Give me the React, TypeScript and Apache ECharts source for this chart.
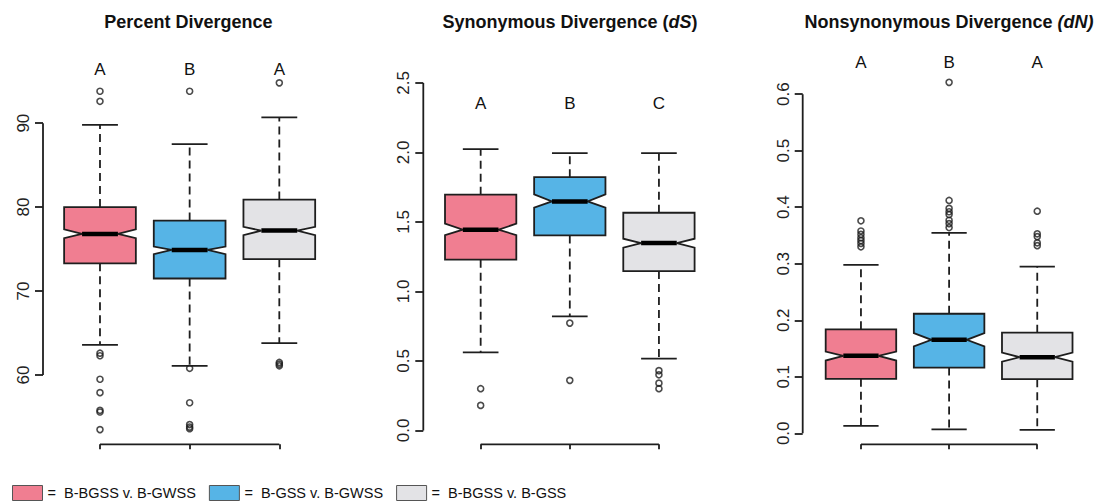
import React, { useEffect, useRef } from 'react';
import * as echarts from 'echarts';

const FONT = '"Liberation Sans", Arial, Helvetica, sans-serif';

const groups = ['B-BGSS v. B-GWSS', 'B-GSS v. B-GWSS', 'B-BGSS v. B-GSS'];
const groupColors = ['#F07E91', '#56B4E6', '#E3E3E6'];

// each row: [lower whisker, Q1, notch low, median, notch high, Q3, upper whisker]
const percentStats = [
  [63.6, 73.3, 76.3, 76.8, 77.35, 80.0, 89.8],
  [61.1, 71.5, 74.4, 74.9, 75.3, 78.4, 87.5],
  [63.8, 73.8, 76.65, 77.2, 77.65, 80.9, 90.7],
];
const percentOutliers = [
  [93.8, 92.6, 62.6, 62.3, 59.5, 57.9, 55.8, 55.6, 53.5],
  [93.8, 60.8, 56.7, 54.1, 53.8, 53.6],
  [94.8, 61.5, 61.3, 61.1],
];
const percentLetters = ['A', 'B', 'A'];
const percentTicks = [60, 70, 80, 90];

const dsStats = [
  [0.561, 1.228, 1.405, 1.444, 1.487, 1.696, 2.024],
  [0.82, 1.403, 1.602, 1.647, 1.698, 1.822, 1.995],
  [0.516, 1.146, 1.314, 1.348, 1.379, 1.566, 1.995],
];
const dsOutliers = [
  [0.3, 0.18],
  [0.772, 0.36],
  [0.43, 0.4, 0.34, 0.3],
];
const dsLetters = ['A', 'B', 'C'];
const dsTicks = [0, 0.5, 1.0, 1.5, 2.0, 2.5];

const dnStats = [
  [0.013, 0.0963, 0.1287, 0.137, 0.1447, 0.184, 0.298],
  [0.007, 0.1163, 0.1536, 0.1654, 0.1773, 0.2115, 0.3546],
  [0.006, 0.0957, 0.1267, 0.1347, 0.1427, 0.178, 0.295],
];
const dnOutliers = [
  [0.376, 0.358, 0.352, 0.346, 0.341, 0.336, 0.33],
  [0.621, 0.412, 0.398, 0.392, 0.387, 0.377, 0.371, 0.364],
  [0.393, 0.353, 0.348, 0.337, 0.332],
];
const dnLetters = ['A', 'B', 'A'];
const dnTicks = [0, 0.1, 0.2, 0.3, 0.4, 0.5, 0.6];

const panelTitles = [
  '{b|Percent Divergence}',
  '{b|Synonymous Divergence (}{i|dS}{b|)}',
  '{b|Nonsynonymous Divergence }{i|(dN)}',
];

const panels = [
  { stats: percentStats, outliers: percentOutliers, letters: percentLetters, ticks: percentTicks, decimals: 0 },
  { stats: dsStats, outliers: dsOutliers, letters: dsLetters, ticks: dsTicks, decimals: 1 },
  { stats: dnStats, outliers: dnOutliers, letters: dnLetters, ticks: dnTicks, decimals: 1 },
];

// layout only
const layout = [
  { left: 44.4, width: 290.5, axisOffset: 1.4, yMin: 51.75, yMax: 96.45, letterY: 96.4, titleX: 188.4 },
  { left: 425.4, width: 288.8, axisOffset: 2.1, yMin: -0.1, yMax: 2.6, letterY: 2.35, titleX: 570 },
  { left: 806.3, width: 285.6, axisOffset: 3.6, yMin: -0.0195, yMax: 0.6446, letterY: 0.6566, titleX: 949 },
];
const GRID_TOP = 69;
const GRID_H = 375.3;
const INK = '#1e1e1e';

function boxRenderer(color: string) {
  return (params: any, api: any) => {
    const x = api.value(0);
    const lo = api.value(1), q1 = api.value(2), nlo = api.value(3), med = api.value(4);
    const nhi = api.value(5), q3 = api.value(6), hi = api.value(7);
    const cx = api.coord([x, med])[0];
    const w = api.size([0.8, 0])[0];
    const xl = cx - w / 2, xr = cx + w / 2, qi = w / 4;
    const Y = (v: number) => api.coord([x, v])[1];
    const stroke = { stroke: INK, lineWidth: 1.8 };
    return {
      type: 'group',
      children: [
        { type: 'line', shape: { x1: cx, y1: Y(q3), x2: cx, y2: Y(hi) }, style: { ...stroke, lineDash: [8, 5] } },
        { type: 'line', shape: { x1: cx, y1: Y(q1), x2: cx, y2: Y(lo) }, style: { ...stroke, lineDash: [8, 5] } },
        { type: 'line', shape: { x1: cx - qi, y1: Y(hi), x2: cx + qi, y2: Y(hi) }, style: stroke },
        { type: 'line', shape: { x1: cx - qi, y1: Y(lo), x2: cx + qi, y2: Y(lo) }, style: stroke },
        {
          type: 'polygon',
          shape: {
            points: [
              [xl, Y(q3)], [xr, Y(q3)], [xr, Y(nhi)], [cx + qi, Y(med)], [xr, Y(nlo)],
              [xr, Y(q1)], [xl, Y(q1)], [xl, Y(nlo)], [cx - qi, Y(med)], [xl, Y(nhi)],
            ],
          },
          style: { fill: color, stroke: INK, lineWidth: 1.8, lineJoin: 'miter' },
        },
        { type: 'line', shape: { x1: cx - qi, y1: Y(med), x2: cx + qi, y2: Y(med) }, style: { stroke: '#000', lineWidth: 4.5 } },
      ],
    };
  };
}

function buildOption() {
  const grid: any[] = [];
  const xAxis: any[] = [];
  const yAxis: any[] = [];
  const series: any[] = [];
  const graphic: any[] = [];

  panels.forEach((p, pi) => {
    const L = layout[pi];
    grid.push({ left: L.left, top: GRID_TOP, width: L.width, height: GRID_H, outerBoundsMode: 'none', containLabel: false });
    xAxis.push({
      type: 'value', gridIndex: pi, min: 0.38, max: 3.62, position: 'bottom',
      axisLine: { show: false, onZero: false },
      axisTick: { show: true, customValues: [1, 2, 3], length: 5, lineStyle: { color: INK, width: 1.8 } },
      axisLabel: { show: false },
      splitLine: { show: false },
    });
    yAxis.push({
      type: 'value', gridIndex: pi, min: L.yMin, max: L.yMax, position: 'left', offset: L.axisOffset,
      axisLine: { show: false, onZero: false },
      axisTick: { show: true, customValues: p.ticks, length: 8, lineStyle: { color: INK, width: 1.8 } },
      axisLabel: {
        show: true, customValues: p.ticks, rotate: 90, margin: 11,
        fontSize: 17, fontFamily: FONT, color: '#222',
        formatter: (v: number) => v.toFixed(p.decimals),
      },
      splitLine: { show: false },
    });

    // axis lines spanning the tick range (R style)
    series.push({
      type: 'custom', xAxisIndex: pi, yAxisIndex: pi, silent: true, z: 1,
      data: [[1, p.ticks[0], 3, p.ticks[p.ticks.length - 1]]],
      renderItem: (params: any, api: any) => {
        const cs = params.coordSys;
        const ax = cs.x - L.axisOffset;
        const yb = cs.y + cs.height;
        const yTop = api.coord([1, api.value(3)])[1];
        const yBot = api.coord([1, api.value(1)])[1];
        const xa = api.coord([api.value(0), api.value(1)])[0];
        const xb = api.coord([api.value(2), api.value(1)])[0];
        return {
          type: 'group',
          children: [
            { type: 'line', shape: { x1: ax, y1: yTop, x2: ax, y2: yBot }, style: { stroke: INK, lineWidth: 1.8 } },
            { type: 'line', shape: { x1: xa, y1: yb, x2: xb, y2: yb }, style: { stroke: INK, lineWidth: 1.8 } },
          ],
        };
      },
    });

    p.stats.forEach((s, gi) => {
      series.push({
        type: 'custom', name: groups[gi], xAxisIndex: pi, yAxisIndex: pi, silent: true, z: 2,
        itemStyle: { color: groupColors[gi], borderColor: '#444', borderWidth: 1 },
        data: [[gi + 1, ...s]],
        renderItem: boxRenderer(groupColors[gi]),
      });
    });

    const outData: number[][] = [];
    p.outliers.forEach((arr, gi) => arr.forEach((v) => outData.push([gi + 1, v])));
    series.push({
      type: 'scatter', xAxisIndex: pi, yAxisIndex: pi, silent: true, z: 3,
      symbol: 'circle', symbolSize: 6,
      itemStyle: { color: 'rgba(0,0,0,0)', borderColor: INK, borderWidth: 1.6 },
      data: outData,
    });

    series.push({
      type: 'custom', xAxisIndex: pi, yAxisIndex: pi, silent: true, z: 3, clip: false,
      data: p.letters.map((_, i) => [i + 1, L.letterY]),
      renderItem: (params: any, api: any) => {
        const pt = api.coord([api.value(0), api.value(1)]);
        return {
          type: 'text', x: pt[0], y: pt[1],
          style: {
            text: p.letters[params.dataIndex], fill: '#111', font: `17px ${FONT}`,
            align: 'center', verticalAlign: 'middle',
          },
        };
      },
    });

    graphic.push({
      type: 'text', x: L.titleX, y: 22, silent: true,
      style: {
        text: panelTitles[pi],
        align: 'center', verticalAlign: 'middle',
        rich: {
          b: { fontSize: 18, fontWeight: 'bold', fontFamily: FONT, fill: '#111' },
          i: { fontSize: 18, fontWeight: 'bold', fontStyle: 'italic', fontFamily: FONT, fill: '#111' },
        },
      },
    });
  });

  return {
    animation: false,
    backgroundColor: '#ffffff',
    grid, xAxis, yAxis, series, graphic,
    legend: {
      data: groups, left: 12, top: 485, padding: 0,
      itemWidth: 30, itemHeight: 15, itemGap: 13, icon: 'rect', selectedMode: false,
      itemStyle: { borderColor: '#555', borderWidth: 1 },
      formatter: '=  {name}',
      textStyle: { fontSize: 14.5, fontFamily: FONT, color: '#111' },
    },
  };
}

export default function App() {
  const ref = useRef<HTMLDivElement>(null);
  useEffect(() => {
    if (!ref.current) return;
    const chart = echarts.init(ref.current, null, { renderer: 'svg' });
    chart.setOption(buildOption() as any);
    return () => chart.dispose();
  }, []);
  return <div ref={ref} style={{ position: 'fixed', left: 0, top: 0, width: 1102, height: 501 }} />;
}
